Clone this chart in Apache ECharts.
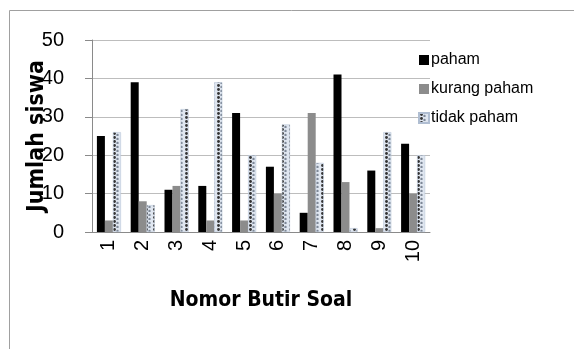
<!DOCTYPE html>
<html>
<head>
<meta charset="utf-8">
<script src="https://cdn.jsdelivr.net/npm/echarts@6/dist/echarts.min.js"></script>
<style>
  html, body { margin: 0; padding: 0; background: #fff; }
  #chart { width: 574px; height: 349px; }
</style>
</head>
<body>
<div id="chart"></div>
<script>
var categories = ['1', '2', '3', '4', '5', '6', '7', '8', '9', '10'];
var paham = [25, 39, 11, 12, 31, 17, 5, 41, 16, 23];
var kurangPaham = [3, 8, 12, 3, 3, 10, 31, 13, 1, 10];
var tidakPaham = [26, 7, 32, 39, 20, 28, 18, 1, 26, 20];

// dotted fill for "tidak paham"
var pat = document.createElement('canvas');
pat.width = 8;
pat.height = 4;
var ctx = pat.getContext('2d');
ctx.fillStyle = '#dfe6f0';
ctx.fillRect(0, 0, 8, 4);
ctx.fillStyle = '#333';
ctx.beginPath();
ctx.arc(2.5, 1.5, 1.4, 0, Math.PI * 2);
ctx.fill();
ctx.fillStyle = '#7d8796';
ctx.beginPath();
ctx.arc(5.5, 3, 1.2, 0, Math.PI * 2);
ctx.fill();

var chartDom = document.getElementById('chart');
var myChart = echarts.init(chartDom);
var option = {
  animation: false,
  graphic: [
    {
      type: 'polyline',
      shape: { points: [[9.5, 349], [9.5, 10.5], [574, 10.5]] },
      style: { stroke: '#a0a0a0', lineWidth: 1, fill: null }
    }
  ],
  legend: {
    orient: 'vertical',
    left: 413,
    top: 47,
    icon: 'rect',
    itemWidth: 10,
    itemHeight: 10,
    itemGap: 13,
    textStyle: { fontFamily: 'Liberation Sans', fontSize: 16, color: '#000', padding: [0, 0, 0, -3] },
    data: ['paham', 'kurang paham', 'tidak paham']
  },
  grid: {
    left: 92,
    right: 144,
    top: 40,
    bottom: 117,
    containLabel: false
  },
  xAxis: {
    type: 'category',
    data: categories,
    name: 'Nomor Butir Soal',
    nameLocation: 'middle',
    nameGap: 58,
    nameTextStyle: { fontFamily: 'DejaVu Sans Condensed', fontWeight: 'bold', fontSize: 21, color: '#000' },
    axisLine: { lineStyle: { color: '#8a8a8a' } },
    axisTick: { show: false },
    axisLabel: { rotate: 90, fontFamily: 'Liberation Sans', fontSize: 20, color: '#000', margin: 8 }
  },
  yAxis: {
    type: 'value',
    min: 0,
    max: 50,
    interval: 10,
    name: 'Jumlah siswa',
    nameLocation: 'middle',
    nameGap: 43,
    nameRotate: 90,
    nameMoveOverlap: false,
    nameTextStyle: { fontFamily: 'DejaVu Sans Condensed', fontWeight: 'bold', fontSize: 23, color: '#000' },
    axisLine: { show: true, lineStyle: { color: '#8a8a8a' } },
    axisTick: { show: true, inside: false, length: 7, lineStyle: { color: '#8a8a8a' } },
    axisLabel: { fontFamily: 'Liberation Sans', fontSize: 20, color: '#000', margin: 28 },
    splitLine: { lineStyle: { color: '#bdbdbd' } }
  },
  series: [
    {
      name: 'paham',
      type: 'bar',
      barWidth: 8,
      barGap: '0%',
      itemStyle: { color: '#000' },
      data: paham
    },
    {
      name: 'kurang paham',
      type: 'bar',
      barWidth: 8,
      itemStyle: { color: '#8c8c8c' },
      data: kurangPaham
    },
    {
      name: 'tidak paham',
      type: 'bar',
      barWidth: 8,
      itemStyle: { color: { image: pat, repeat: 'repeat' }, borderColor: '#b0bed2', borderWidth: 0.5 },
      data: tidakPaham
    }
  ]
};
myChart.setOption(option);
</script>
</body>
</html>
